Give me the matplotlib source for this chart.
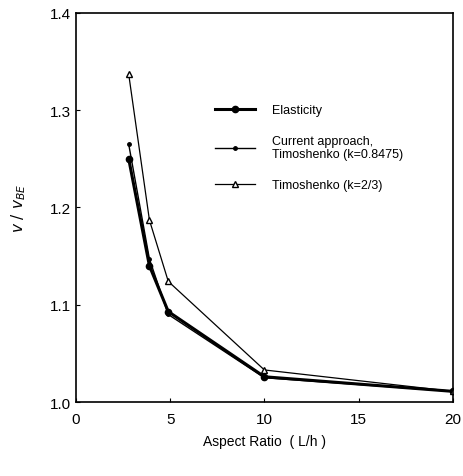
import matplotlib
matplotlib.use("Agg")
import matplotlib.pyplot as plt

plt.rcParams['font.family'] = ['Liberation Sans', 'DejaVu Sans']

# valores
aspect = [2.8, 3.9, 4.9, 10, 20]
elasticity = [1.250, 1.140, 1.093, 1.026, 1.011]
current = [1.265, 1.147, 1.090, 1.025, 1.011]
timo = [1.337, 1.187, 1.124, 1.033, 1.011]

fig = plt.figure(figsize=(4.63, 4.77), dpi=100)
ax = fig.add_axes([0.164, 0.155, 0.814, 0.816])

ax.plot(aspect, elasticity, color='black', lw=2.2, marker='o', ms=4.5,
        label='Elasticity')
ax.plot(aspect, current, color='black', lw=1.0, marker='o', ms=2.5,
        label='Current approach,\nTimoshenko (k=0.8475)')
ax.plot(aspect, timo, color='black', lw=0.9, marker='^', ms=4, mfc='white',
        label='Timoshenko (k=2/3)')

ax.set_xlim(0, 20)
ax.set_ylim(1.0, 1.4)
ax.set_xticks([0, 5, 10, 15, 20])
ax.set_yticks([1.0, 1.1, 1.2, 1.3, 1.4])
ax.set_yticklabels(['1.0', '1.1', '1.2', '1.3', '1.4'])
ax.tick_params(direction='in', length=3, labelsize=11, width=0.8)
ax.tick_params(axis='x', pad=7)
for s in ax.spines.values():
    s.set_linewidth(1.2)

ax.set_xlabel('Aspect Ratio  ( L/h )', fontsize=10, labelpad=6)
ax.set_ylabel(r'$v\ /\ v_{BE}$', fontsize=11, labelpad=16)

leg = ax.legend(loc='upper left', bbox_to_anchor=(0.34, 0.795), frameon=False,
                fontsize=9, handlelength=3.2, labelspacing=1.5, handletextpad=1.3)

fig.savefig('out.png', dpi=100)
